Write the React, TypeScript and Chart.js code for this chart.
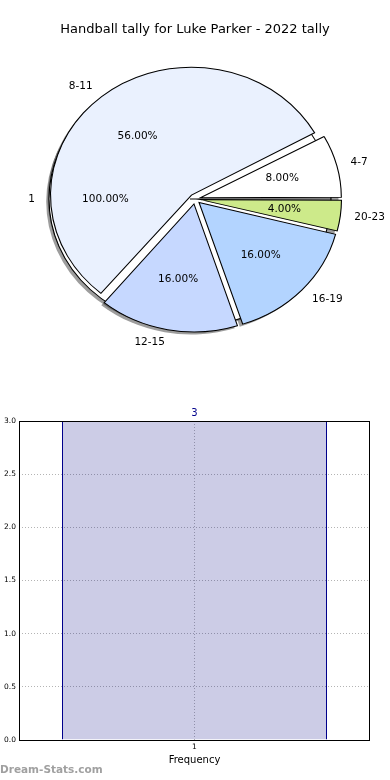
import React, { useEffect, useRef } from "react";
import { Chart, registerables } from "chart.js";

Chart.register(...registerables);
Chart.defaults.font.family = "'DejaVu Sans', sans-serif";
Chart.defaults.color = "#000";

// ---- data ----
const chartTitle = "Handball tally for Luke Parker - 2022 tally";
const outerPieLabels = ["1"];
const outerPieValues = [1];
const outerPieColors = ["#ffffff"];
const ageGroups = ["4-7", "8-11", "12-15", "16-19", "20-23"];
const ageCounts = [2, 14, 4, 4, 1];
const ageColors = ["#ffffff", "#eaf1fe", "#c6d8ff", "#b3d4ff", "#cdea8a"];
const barCategories = ["1"];
const barValues = [3];
const barAxisTitle = "Frequency";
const watermarkText = "Dream-Stats.com";

// ---- geometry / style ----
const R = 128;
const SX = 141 / 128;
const OFFSET = 20; // Chart.js translates arcs by offset/4
const SH_DX = -2.8;
const SH_DY = 2.6;
const LABEL_FONT = "10.5px 'DejaVu Sans', sans-serif";

function centerOf(chart: any) {
  const a = chart.chartArea;
  return { cx: (a.left + a.right) / 2, cy: (a.top + a.bottom) / 2 };
}

function geom(arc: any, offset: number) {
  const m = (arc.startAngle + arc.endAngle) / 2;
  const t = offset / 4;
  return { m, bx: arc.x + Math.cos(m) * t, by: arc.y + Math.sin(m) * t };
}

function radiusFix(offset: number) {
  return {
    id: "radiusFix",
    afterDatasetUpdate(_chart: any, args: any) {
      args.meta.data.forEach((arc: any) => {
        const circ = arc.endAngle - arc.startAngle;
        const fix = 1 - Math.sin(Math.min(Math.PI, circ));
        arc.outerRadius = R - (offset / 4) * fix;
      });
    },
  };
}

function drawPieLabels(ctx: CanvasRenderingContext2D, chart: any, labels: string[], values: number[], offset: number) {
  const { cx } = centerOf(chart);
  const total = values.reduce((a, b) => a + b, 0);
  const arcs = chart.getDatasetMeta(0).data;
  arcs.forEach((arc: any, i: number) => {
    const { m, bx, by } = geom(arc, offset);
    const c = Math.cos(m);
    const s = Math.sin(m);
    const lx = cx + SX * (bx + c * 1.1 * R - cx);
    const ly = by + s * 1.1 * R;
    ctx.textAlign = c > 0 ? "left" : "right";
    ctx.fillText(labels[i], lx, ly);
    const px = cx + SX * (bx + c * 0.6 * R - cx);
    const py = by + s * 0.6 * R;
    ctx.textAlign = "center";
    ctx.fillText(((values[i] / total) * 100).toFixed(2) + "%", px, py);
  });
}

export default function App() {
  const bottomRef = useRef<HTMLCanvasElement>(null);
  const topRef = useRef<HTMLCanvasElement>(null);
  const barRef = useRef<HTMLCanvasElement>(null);

  useEffect(() => {
    const dispLabels = [...ageGroups].reverse();
    const dispValues = [...ageCounts].reverse();
    const dispColors = [...ageColors].reverse();
    let outerChart: any = null;

    const ellipseOpen = (chart: any) => {
      const { ctx } = chart;
      const { cx, cy } = centerOf(chart);
      ctx.save();
      ctx.translate(cx, cy);
      ctx.scale(SX, 1);
      ctx.translate(-cx, -cy);
    };

    const topChart: any = new Chart(topRef.current!, {
      type: "pie",
      data: {
        labels: dispLabels,
        datasets: [
          {
            data: dispValues,
            backgroundColor: dispColors,
            borderColor: "#000",
            borderWidth: 1,
            borderJoinStyle: "miter",
            offset: OFFSET,
          } as any,
        ],
      },
      options: {
        responsive: false,
        animation: false,
        events: [],
        rotation: 90,
        radius: R,
        layout: { padding: { left: 0, right: 0, top: 0, bottom: 9.6 } },
        plugins: {
          legend: { display: false },
          tooltip: { enabled: false },
          title: {
            display: true,
            text: chartTitle,
            color: "#000",
            font: { size: 13, weight: "normal" },
            padding: { top: 22, bottom: 0 },
          },
        },
      } as any,
      plugins: [
        radiusFix(OFFSET),
        {
          id: "ellipse",
          beforeDatasetsDraw: (chart: any) => ellipseOpen(chart),
          afterDatasetsDraw: (chart: any) => chart.ctx.restore(),
        },
        {
          id: "pieLabels",
          afterDraw(chart: any) {
            const ctx = chart.ctx;
            ctx.save();
            ctx.font = LABEL_FONT;
            ctx.fillStyle = "#000";
            ctx.textBaseline = "middle";
            drawPieLabels(ctx, chart, dispLabels, dispValues, OFFSET);
            if (outerChart) drawPieLabels(ctx, outerChart, outerPieLabels, outerPieValues, 0);
            ctx.restore();
          },
        },
      ] as any,
    });

    outerChart = new Chart(bottomRef.current!, {
      type: "pie",
      data: {
        labels: outerPieLabels,
        datasets: [
          {
            data: outerPieValues,
            backgroundColor: outerPieColors,
            borderColor: "#000",
            borderWidth: 1,
            offset: 0,
          } as any,
        ],
      },
      options: {
        responsive: false,
        animation: false,
        events: [],
        rotation: 90,
        radius: R,
        layout: { padding: { left: 0, right: 10, top: 28, bottom: 0 } },
        plugins: { legend: { display: false }, tooltip: { enabled: false } },
      } as any,
      plugins: [
        radiusFix(0),
        {
          id: "shadowsEllipse",
          beforeDatasetsDraw(chart: any) {
            const ctx = chart.ctx;
            ctx.save();
            ctx.fillStyle = "rgba(60,60,60,0.5)";
            const list: [any, number][] = [
              [topChart, OFFSET],
              [chart, 0],
            ];
            list.forEach(([c, off]) => {
              const { cx, cy } = centerOf(c);
              c.getDatasetMeta(0).data.forEach((arc: any) => {
                const { bx, by } = geom(arc, off);
                ctx.save();
                ctx.translate(SH_DX, SH_DY);
                ctx.translate(cx, cy);
                ctx.scale(SX, 1);
                ctx.translate(-cx, -cy);
                ctx.beginPath();
                ctx.moveTo(bx, by);
                ctx.arc(bx, by, R, arc.startAngle, arc.endAngle);
                ctx.closePath();
                ctx.fill();
                ctx.restore();
              });
            });
            ctx.restore();
            ellipseOpen(chart);
          },
          afterDatasetsDraw: (chart: any) => chart.ctx.restore(),
        },
      ] as any,
    });
    topChart.draw();

    const barChart = new Chart(barRef.current!, {
      type: "bar",
      data: {
        labels: barCategories,
        datasets: [
          {
            data: barValues,
            backgroundColor: "rgba(0,0,128,0.2)",
            borderColor: "#00008b",
            borderWidth: 1,
            borderSkipped: "start",
            barPercentage: 265 / 351,
            categoryPercentage: 1,
          } as any,
        ],
      },
      options: {
        responsive: false,
        animation: false,
        events: [],
        layout: { padding: { left: 0, right: 20, top: 26, bottom: 0 } },
        plugins: { legend: { display: false }, tooltip: { enabled: false } },
        scales: {
          x: {
            grid: { offset: false, color: "#b4b4b4", drawTicks: false },
            border: { display: false, dash: [1, 2] },
            ticks: { font: { size: 7.5 }, color: "#000", padding: 3 },
            title: {
              display: true,
              text: barAxisTitle,
              color: "#000",
              font: { size: 10 },
              padding: { top: 0, bottom: 14 },
            },
            afterFit: (s: any) => {
              s.height = 40;
            },
          },
          y: {
            min: 0,
            max: 3,
            ticks: {
              stepSize: 0.5,
              font: { size: 7.5 },
              color: "#000",
              padding: 3,
              callback: (v: any) => Number(v).toFixed(1),
            },
            grid: { color: "#b4b4b4", drawTicks: false },
            border: { display: false, dash: [1, 2] },
            afterFit: (s: any) => {
              s.width = 19;
            },
          },
        },
      } as any,
      plugins: [
        {
          id: "frameAndValues",
          afterDatasetsDraw(chart: any) {
            const { ctx, chartArea: a } = chart;
            ctx.save();
            ctx.strokeStyle = "#000";
            ctx.lineWidth = 1;
            ctx.strokeRect(a.left + 0.5, a.top + 0.5, a.right - a.left - 1, a.bottom - a.top);
            ctx.fillStyle = "#00008b";
            ctx.font = "10px 'DejaVu Sans', sans-serif";
            ctx.textAlign = "center";
            ctx.textBaseline = "middle";
            chart.getDatasetMeta(0).data.forEach((bar: any, i: number) => {
              ctx.fillText(String(barValues[i]), bar.x, bar.y - 8);
            });
            ctx.restore();
          },
        },
      ] as any,
    });

    return () => {
      topChart.destroy();
      outerChart.destroy();
      barChart.destroy();
    };
  }, []);

  return (
    <div style={{ position: "fixed", left: 0, top: 0, width: 390, height: 780, background: "#fff" }}>
      <canvas ref={bottomRef} width={390} height={370} style={{ position: "absolute", left: 0, top: 0 }} />
      <canvas ref={topRef} width={390} height={370} style={{ position: "absolute", left: 0, top: 0 }} />
      <canvas ref={barRef} width={390} height={385} style={{ position: "absolute", left: 0, top: 395 }} />
      <div
        style={{
          position: "absolute",
          left: 0,
          top: 763,
          font: "bold 10.5px 'DejaVu Sans', sans-serif",
          lineHeight: "13px",
          color: "#a0a0a0",
          whiteSpace: "nowrap",
        }}
      >
        {watermarkText}
      </div>
    </div>
  );
}
